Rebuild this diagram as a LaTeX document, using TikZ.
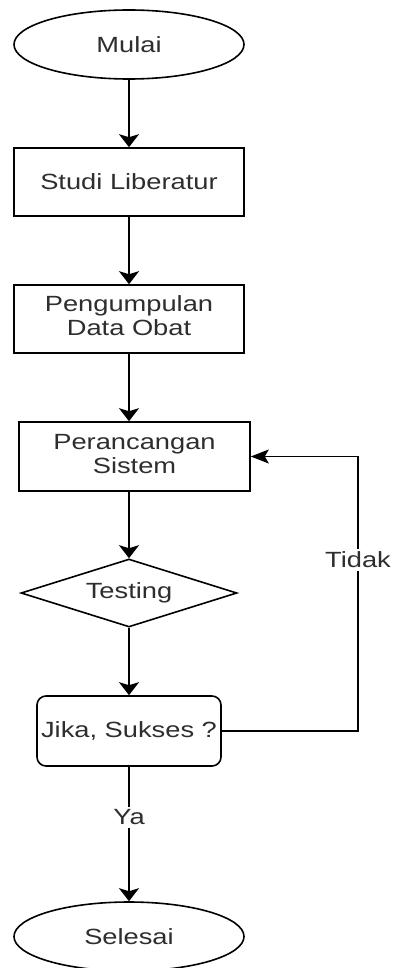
\documentclass[tikz,border=0pt]{standalone}
\usepackage{fontspec}
\setmainfont{Liberation Sans}
\usetikzlibrary{shapes.geometric,arrows.meta}
\definecolor{txt}{HTML}{2E2E2E}
% text is set slightly wide to suit the stretched layout
\newcommand{\wtext}[1]{\scalebox{1.24}[1]{#1}}
\newcommand{\wtwo}[2]{\scalebox{1.24}[1]{\begin{tabular}{@{}c@{}}#1\\#2\end{tabular}}}
\begin{document}
\begin{tikzpicture}[x=1pt,y=1pt,
  every node/.style={font=\fontsize{22}{24}\selectfont, text=txt, inner sep=0pt},
  shapebase/.style={draw=black, line width=1.6pt, fill=white},
  terminal/.style={shapebase, ellipse, minimum width=230pt, minimum height=69pt},
  process/.style={shapebase, rectangle, minimum width=230pt, minimum height=68pt},
  decision/.style={shapebase, diamond, aspect=3.18, minimum width=216pt, minimum height=68pt},
  question/.style={shapebase, rectangle, rounded corners=9pt, minimum width=184pt, minimum height=70pt},
  flow/.style={draw=black, line width=1.6pt, -{Stealth[length=13pt,width=20pt,inset=3pt]}},
  flowh/.style={draw=black, line width=1.6pt, -{Stealth[length=18pt,width=14pt,inset=4pt]}},
  lbl/.style={fill=white, inner sep=3pt}
]
\useasboundingbox (0,0) rectangle (392,-968);

\node[terminal] (mulai) at (129,-44.5) {\wtext{Mulai}};
\node[process] (studi) at (129,-182) {\wtext{Studi Liberatur}};
\node[process] (data) at (129,-319) {\wtwo{Pengumpulan}{Data Obat}};
\node[process, minimum width=231pt, minimum height=69pt] (rancang) at (134.5,-456.5) {\wtwo{Perancangan}{Sistem}};
\node[decision] (testing) at (129,-593) {\wtext{Testing}};
\node[question] (jika) at (129,-731) {\wtext{Jika, Sukses ?}};
\node[terminal] (selesai) at (129,-936.5) {\wtext{Selesai}};
\coordinate (loop) at (358,-731);

\draw[flow] (mulai) -- (studi);
\draw[flow] (studi) -- (data);
\draw[flow] (data.south) -- (data.south |- rancang.north);
\draw[flow] (rancang.south -| testing.north) -- (testing.north);
\draw[flow] (testing) -- (jika);
\draw[flow] (jika) -- node[lbl, pos=0.375] {\wtext{Ya}} (selesai);
\draw[flowh] (jika.east) -- (loop)
  -- node[lbl, pos=0.623] {\wtext{Tidak}} (loop |- rancang.east)
  -- (rancang.east);
\end{tikzpicture}
\end{document}
